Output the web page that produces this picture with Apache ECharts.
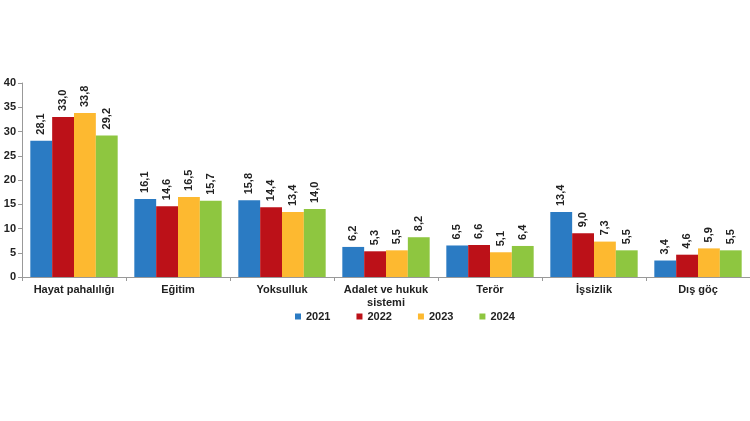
<!DOCTYPE html>
<html><head><meta charset="utf-8">
<script src="https://cdn.jsdelivr.net/npm/echarts@6/dist/echarts.min.js"></script>
<style>html,body{margin:0;padding:0;background:#fff}#c{width:750px;height:421px}</style>
</head><body><div id="c"></div>
<script>
const categories = ['Hayat pahalılığı','Eğitim','Yoksulluk','Adalet ve hukuk\nsistemi','Terör','İşsizlik','Dış göç'];
const years = ['2021','2022','2023','2024'];
const v2021 = [28.1,16.1,15.8,6.2,6.5,13.4,3.4];
const v2022 = [33.0,14.6,14.4,5.3,6.6,9.0,4.6];
const v2023 = [33.8,16.5,13.4,5.5,5.1,7.3,5.9];
const v2024 = [29.2,15.7,14.0,8.2,6.4,5.5,5.5];
const yTicks = [0,5,10,15,20,25,30,35,40];
const colors = ['#2B7BC3','#BC1118','#FDB930','#8EC640'];
const seriesData = [v2021,v2022,v2023,v2024];
const font = 'Arial, "Liberation Sans", sans-serif';
const chart = echarts.init(document.getElementById('c'));
chart.setOption({
  animation:false,
  textStyle:{fontFamily:font},
  grid:{left:22,right:0,top:83,bottom:144,containLabel:false},
  legend:{left:290,top:306,icon:'rect',itemWidth:6,itemHeight:6,itemGap:26,
    textStyle:{fontFamily:font,fontSize:11,fontWeight:'bold',color:'#222'},data:years},
  xAxis:{type:'category',data:categories,
    axisLine:{lineStyle:{color:'#999'}},
    axisTick:{show:true,alignWithLabel:false,length:4,lineStyle:{color:'#999'}},
    axisLabel:{interval:0,fontFamily:font,fontSize:11,fontWeight:'bold',color:'#222',margin:6,lineHeight:13}},
  yAxis:{type:'value',min:yTicks[0],max:yTicks[yTicks.length-1],interval:5,
    axisLine:{show:true,lineStyle:{color:'#999'}},
    axisTick:{show:true,length:4,lineStyle:{color:'#999'}},
    splitLine:{show:false},
    axisLabel:{fontFamily:font,fontSize:11,fontWeight:'bold',color:'#222',margin:6}},
  series: years.map((y,i)=>({
    name:y,type:'bar',data:seriesData[i],barGap:'0%',barCategoryGap:'16%',
    itemStyle:{color:colors[i]},
    label:{show:true,position:'top',rotate:90,align:'left',verticalAlign:'middle',distance:6,
      fontFamily:font,fontSize:11,fontWeight:'bold',color:'#222',
      formatter:p=>p.value.toFixed(1).replace('.',',')}
  }))
});
</script></body></html>
